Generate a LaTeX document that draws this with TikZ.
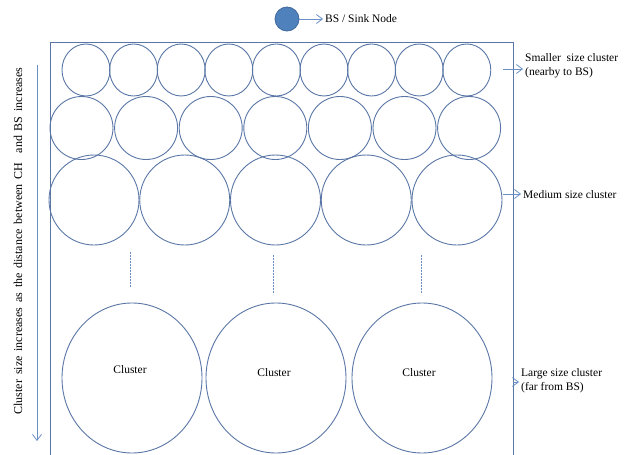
\documentclass[tikz,border=0pt]{standalone}
\usepackage{fontspec}
\setmainfont{Liberation Serif}
\usetikzlibrary{arrows.meta, positioning, shapes.geometric}
\definecolor{ringblue}{HTML}{5A76A6}
\definecolor{sinkblue}{HTML}{4F81BD}
\definecolor{sinkedge}{HTML}{41699C}
\definecolor{arrowblue}{HTML}{6A8FC6}
\tikzset{
  cell/.style    = {draw=ringblue, ellipse, line width=0.9pt, inner sep=0pt},
  smallcell/.style  = {cell, minimum width=48pt, minimum height=52pt},
  midcell/.style    = {cell, minimum width=63pt, minimum height=63pt},
  medcell/.style    = {cell, minimum width=90pt, minimum height=90pt},
  largecell/.style  = {cell, minimum width=140pt, minimum height=150pt},
  sink/.style    = {circle, draw=sinkedge, fill=sinkblue, line width=0.8pt,
                    minimum size=24pt, inner sep=0pt},
  legend/.style  = {align=left, inner sep=2pt, anchor=west},
  pointer/.style = {-{Straight Barb[length=6pt, width=9pt]}, draw=arrowblue,
                    line width=0.8pt},
  gap/.style     = {draw=arrowblue, dash pattern=on 2pt off 1pt, line width=0.8pt},
  frame/.style   = {draw=ringblue, line width=1pt},
}

\begin{document}
\begin{tikzpicture}[x=1pt, y=-1pt, font=\fontsize{11.5}{14}\selectfont]
  \useasboundingbox (0,0) rectangle (630,455);
  % sink node legend
  \node[sink] (bs) at (287,19) {};
  \node[legend] (bstext) at (323,19) {BS / Sink Node};
  \draw[pointer] (bs) -- (bstext);
  % field border
  \draw[frame] (50,456) -- (50,42) -- (513,42) -- (513,456);
  % clusters, row by row
  \foreach \i in {0,...,8}
    \node[smallcell] (s\i) at (86+47.6*\i,70) {};
  \foreach \i in {0,...,6}
    \node[midcell] (m\i) at (81.5+64.6*\i,128) {};
  \foreach \i in {0,...,4}
    \node[medcell] (d\i) at (94+90.75*\i,200) {};
  \node[largecell] (l0) at (132,378) {};
  \node[largecell] (l1) at (276,378) {};
  \node[largecell] (l2) at (422,378) {};
  \node (c0) at (130,370) {Cluster};
  \node (c1) at (274,373) {Cluster};
  \node (c2) at (419,373) {Cluster};
  % more rows in between
  \draw[gap] (130,252) -- (130,288);
  \draw[gap] (273,255) -- (273,293);
  \draw[gap] (421,255) -- (421,293);
  % size labels on the right
  \coordinate (sa) at (503,69);
  \coordinate (ma) at (503,194);
  \coordinate (la) at (513,382);
  \node[legend] (stext) at (523,66) {Smaller\ \ size cluster\\(nearby to BS)};
  \node[legend] (mtext) at (521,195) {Medium size cluster};
  \node[legend] (ltext) at (519,381) {Large size cluster\\(far from BS)};
  \draw[pointer] (sa) -- (sa -| stext.west);
  \draw[pointer] (ma) -- (ma -| mtext.west);
  \draw[pointer] (la) -- (la -| ltext.west);
  % growth direction
  \coordinate (gtop) at (37,65);
  \coordinate (gbot) at (37,441);
  \draw[pointer] (gtop) -- (gbot);
  \node[rotate=90, inner sep=0pt, font=\fontsize{12}{14}\selectfont,
        execute at begin node={\spaceskip=0.4em plus 0.1em}] (growth) at (18,241)
    {Cluster size increases as the distance between CH\ \ and BS increases};
\end{tikzpicture}
\end{document}
